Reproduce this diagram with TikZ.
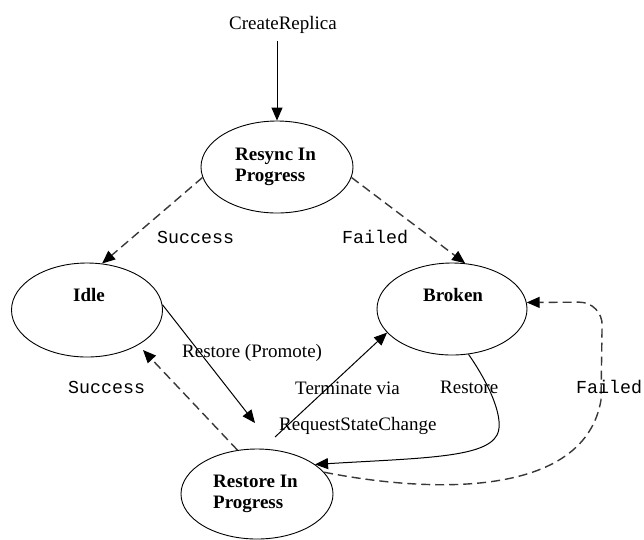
\documentclass[tikz,border=0pt]{standalone}
\usepackage{fontspec}
\setmainfont{Liberation Serif}
\newfontfamily\codefont{Liberation Mono}
\usetikzlibrary{arrows.meta,shapes.geometric}
\begin{document}
\begin{tikzpicture}[x=1pt,y=-1pt,
  state/.style={draw, ellipse, line width=0.9pt, inner sep=0pt},
  statename/.style={anchor=base west, inner sep=0pt, font=\fontsize{19}{22}\selectfont\bfseries},
  lbl/.style={anchor=base west, inner sep=0pt, font=\fontsize{19}{22}\selectfont},
  codelbl/.style={anchor=base west, inner sep=0pt, font=\fontsize{18.3}{22}\codefont},
  tip/.style={-{Triangle[length=13pt,width=11pt,color=black]}},
  solidarrow/.style={line width=1pt, tip},
  dasharrow/.style={line width=1.4pt, draw=black!78, dash pattern=on 9pt off 5pt, tip}
]
\fill[white] (0,0) rectangle (644,539);
\useasboundingbox (0,0) rectangle (644,539);

% states
\node[state, minimum width=152pt, minimum height=92pt] (resync) at (277,167) {};
\node[state, minimum width=151pt, minimum height=94pt] (idle) at (87,310) {};
\node[state, minimum width=150pt, minimum height=92pt] (broken) at (452,309) {};
\node[state, minimum width=152pt, minimum height=90pt] (restore) at (257,494) {};

% state names
\node[statename] (resynctext1) at (235,160) {Resync In};
\node[statename] (resynctext2) at (235,181) {Progress};
\node[statename] (idletext) at (73,301) {Idle};
\node[statename] (brokentext) at (423,301) {Broken};
\node[statename] (restoretext1) at (213,487) {Restore In};
\node[statename] (restoretext2) at (213,508) {Progress};

% free ends of transitions
\coordinate (createstart) at (277,41);
\coordinate (promoteend) at (255,423);
\coordinate (idlereturn) at (143,350);
\coordinate (terminatestart) at (275,437);

% transitions
\draw[solidarrow] (createstart) -- (resync.north);
\draw[dasharrow] (resync.188) -- (idle.72);
\draw[dasharrow] (resync.-8) -- (broken.74);
\draw[solidarrow] (idle.4) -- (promoteend);
\draw[dasharrow] (restore.114) -- (idlereturn);
\draw[solidarrow] (terminatestart) -- (broken.200);
\draw[solidarrow] (broken.-70) .. controls (490,385) and (505,420) .. (497,435)
  .. controls (485,458) and (420,458) .. (restore.27);
\draw[dasharrow] (restore.18) .. controls (440,495) and (585,495) .. (601,400)
  -- (602,330) [rounded corners=24pt] -- (603,302) -- (broken.5);

% transition labels
\node[lbl] (createlbl) at (229,29) {CreateReplica};
\node[codelbl] (successtop) at (157,243) {Success};
\node[codelbl] (failedtop) at (342,243) {Failed};
\node[lbl] (promotelbl) at (182,357) {Restore (Promote)};
\node[lbl] (termlbl1) at (295,394) {Terminate via};
\node[lbl] (termlbl2) at (279,430) {RequestStateChange};
\node[lbl] (restorelbl) at (440,393) {Restore};
\node[codelbl] (failedright) at (576,393) {Failed};
\node[codelbl] (successbottom) at (68,393) {Success};
\end{tikzpicture}
\end{document}
